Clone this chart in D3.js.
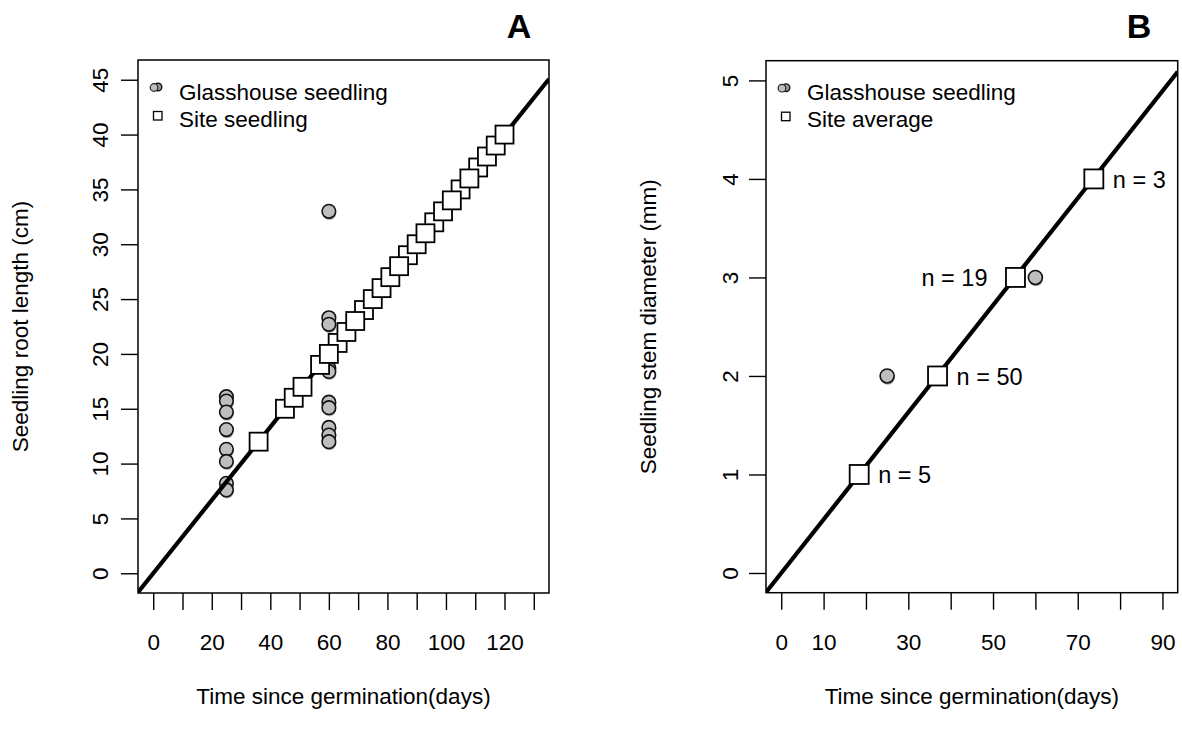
<!DOCTYPE html>
<html>
<head>
<meta charset="utf-8">
<script src="https://cdn.jsdelivr.net/npm/d3@7"></script>
<style>
  html, body { margin: 0; padding: 0; background: #fff; }
  svg { display: block; }
  text { font-family: "Liberation Sans", Arial, sans-serif; fill: #000; }
</style>
</head>
<body>
<div id="chart"></div>
<script>
// ---------------- DATA ----------------
// Panel A: glasshouse seedlings (days, root length cm)
const glassDaysA = [25, 25, 25, 25, 25, 25, 25, 25, 60, 60, 60, 60, 60, 60, 60, 60, 60, 60];
const glassRootA = [16.1, 15.7, 14.7, 13.1, 11.3, 10.2, 8.2, 7.6, 33.0, 23.3, 22.7, 18.7, 18.4, 15.6, 15.1, 13.3, 12.6, 12.0];
// Panel A: site seedlings (days, root length cm)
const siteDaysA = [36, 45, 48, 51, 57, 63, 60, 66, 72, 69, 75, 78, 81, 87, 84, 90, 96, 93, 99, 105, 102, 111, 108, 114, 117, 120];
const siteRootA = [12, 15, 16, 17, 19, 21, 20, 22, 24, 23, 25, 26, 27, 29, 28, 30, 32, 31, 33, 35, 34, 37, 36, 38, 39, 40];
// Panel A fitted line
const lineA = { intercept: 0, slope: 1 / 3 };
const xTicksA = [0, 10, 20, 30, 40, 50, 60, 70, 80, 90, 100, 110, 120, 130];
const xTickLabelsA = ["0", "", "20", "", "40", "", "60", "", "80", "", "100", "", "120", ""];
const yTicksA = [0, 5, 10, 15, 20, 25, 30, 35, 40, 45];
const yTickLabelsA = ["0", "5", "10", "15", "20", "25", "30", "35", "40", "45"];

// Panel B: glasshouse seedlings (days, stem diameter mm)
const glassDaysB = [25, 60];
const glassStemB = [2, 3];
// Panel B: site averages
const siteDaysB = [18.4, 36.9, 55.3, 73.8];
const siteStemB = [1, 2, 3, 4];
const siteNB = ["n = 5", "n = 50", "n = 19", "n = 3"];
const siteNSideB = ["right", "right", "left", "right"];
const lineB = { intercept: 0, slope: 1 / 18.4 };
const xTicksB = [0, 10, 20, 30, 40, 50, 60, 70, 80, 90];
const xTickLabelsB = ["0", "10", "", "30", "", "50", "", "70", "", "90"];
const yTicksB = [0, 1, 2, 3, 4, 5];
const yTickLabelsB = ["0", "1", "2", "3", "4", "5"];

const xTitle = "Time since germination(days)";
const yTitleA = "Seedling root length (cm)";
const yTitleB = "Seedling stem diameter (mm)";
const legendA = ["Glasshouse seedling", "Site seedling"];
const legendB = ["Glasshouse seedling", "Site average"];

// ---------------- LAYOUT ----------------
const W = 1182, H = 731;
const FS = 22.5;
const svg = d3.select("#chart").append("svg").attr("width", W).attr("height", H);

function panel(cfg) {
  const g = svg.append("g");
  const x = d3.scaleLinear().domain(cfg.xDomain).range([cfg.left, cfg.right]);
  const y = d3.scaleLinear().domain(cfg.yDomain).range([cfg.bottom, cfg.top]);
  const tickLen = 17;

  // x axis (ticks hanging from the box)
  const xAxis = d3.axisBottom(x).tickValues(cfg.xTicks)
    .tickFormat((d, i) => cfg.xLabels[i]).tickSizeInner(tickLen).tickSizeOuter(0).tickPadding(24);
  const gx = g.append("g").attr("transform", `translate(0,${cfg.bottom})`).call(xAxis);
  gx.select(".domain").remove();
  gx.selectAll("line").attr("stroke", "#000").attr("stroke-width", 1.4);
  gx.selectAll("text").attr("font-size", FS).attr("font-family", "Liberation Sans, Arial, sans-serif")
    .attr("fill", "#000");

  // y axis (rotated labels)
  const yAxis = d3.axisLeft(y).tickValues(cfg.yTicks)
    .tickFormat((d, i) => cfg.yLabels[i]).tickSizeInner(tickLen).tickSizeOuter(0);
  const gy = g.append("g").attr("transform", `translate(${cfg.left},0)`).call(yAxis);
  gy.select(".domain").remove();
  gy.selectAll("line").attr("stroke", "#000").attr("stroke-width", 1.4);
  gy.selectAll("text").attr("font-size", FS).attr("font-family", "Liberation Sans, Arial, sans-serif")
    .attr("fill", "#000")
    .attr("dy", null)
    .attr("text-anchor", "middle")
    .attr("transform", "rotate(-90)")
    .attr("x", 0)
    .attr("y", -(cfg.left - cfg.yLabelBaseline));

  // clip for plot region
  const clipId = "clip" + cfg.id;
  svg.append("clipPath").attr("id", clipId).append("rect")
    .attr("x", cfg.left).attr("y", cfg.top)
    .attr("width", cfg.right - cfg.left).attr("height", cfg.bottom - cfg.top);
  const plot = g.append("g").attr("clip-path", `url(#${clipId})`);

  // glasshouse circles: shadow, then circle
  const circ = cfg.glassX.map((d, i) => ({ x: d, y: cfg.glassY[i] }));
  plot.selectAll("circle.sh").data(circ).join("circle").attr("class", "sh")
    .attr("cx", d => x(d.x) + 0.6).attr("cy", d => y(d.y) + 1.8).attr("r", cfg.cr)
    .attr("fill", "#a8a8a8");
  plot.selectAll("circle.pt").data(circ).join("circle").attr("class", "pt")
    .attr("cx", d => x(d.x)).attr("cy", d => y(d.y)).attr("r", cfg.cr)
    .attr("fill", "#bebebe").attr("stroke", "#111").attr("stroke-width", 1.6);

  // fitted line
  const xd = cfg.xDomain;
  plot.append("line")
    .attr("x1", x(xd[0])).attr("y1", y(cfg.line.intercept + cfg.line.slope * xd[0]))
    .attr("x2", x(xd[1])).attr("y2", y(cfg.line.intercept + cfg.line.slope * xd[1]))
    .attr("stroke", "#000").attr("stroke-width", 4.2);

  // site squares
  const sq = cfg.siteX.map((d, i) => ({ x: d, y: cfg.siteY[i], i }));
  plot.selectAll("rect.sq").data(sq).join("rect").attr("class", "sq")
    .attr("x", d => x(d.x) - cfg.ss / 2).attr("y", d => y(d.y) - cfg.ss / 2)
    .attr("width", cfg.ss).attr("height", cfg.ss)
    .attr("fill", "#fff").attr("stroke", "#000").attr("stroke-width", 1.8);

  // n labels
  if (cfg.nLabels) {
    g.selectAll("text.nl").data(sq).join("text").attr("class", "nl")
      .attr("x", d => cfg.nSide[d.i] === "right" ? x(d.x) + 19 : x(d.x) - 28)
      .attr("y", d => y(d.y) + 9)
      .attr("text-anchor", d => cfg.nSide[d.i] === "right" ? "start" : "end")
      .attr("font-family", "Open Sans, sans-serif").attr("font-size", 23.5)
      .text(d => cfg.nLabels[d.i]);
  }

  // box
  g.append("rect").attr("x", cfg.left).attr("y", cfg.top)
    .attr("width", cfg.right - cfg.left).attr("height", cfg.bottom - cfg.top)
    .attr("fill", "none").attr("stroke", "#000").attr("stroke-width", 1.5);

  // legend
  const lx = cfg.left;
  g.append("circle").attr("cx", lx + 20).attr("cy", cfg.top + 27).attr("r", 3.8)
    .attr("fill", "#9a9a9a").attr("stroke", "#111").attr("stroke-width", 1.4);
  g.append("circle").attr("cx", lx + 16).attr("cy", cfg.top + 27.5).attr("r", 3.8)
    .attr("fill", "#bebebe").attr("stroke", "#222").attr("stroke-width", 1.2);
  g.append("rect").attr("x", lx + 15.5).attr("y", cfg.top + 51.5).attr("width", 8.5).attr("height", 8.5)
    .attr("fill", "#fff").attr("stroke", "#000").attr("stroke-width", 1.3);
  g.append("text").attr("x", lx + 41).attr("y", cfg.top + 39.5).attr("font-size", FS).text(cfg.legend[0]);
  g.append("text").attr("x", lx + 41).attr("y", cfg.top + 66.5).attr("font-size", FS).text(cfg.legend[1]);

  // axis titles
  g.append("text").attr("x", (cfg.left + cfg.right) / 2).attr("y", cfg.xTitleY)
    .attr("text-anchor", "middle").attr("font-size", FS).text(xTitle);
  g.append("text").attr("transform", `translate(${cfg.yTitleX},${(cfg.top + cfg.bottom) / 2}) rotate(-90)`)
    .attr("text-anchor", "middle").attr("font-size", FS).text(cfg.yTitle);

  // panel letter
  g.append("text").attr("x", cfg.letterX).attr("y", 38).attr("text-anchor", "middle")
    .attr("font-size", 34).attr("font-weight", "bold").text(cfg.letter);
}

panel({
  id: "A", left: 138, right: 549, top: 60, bottom: 593,
  xDomain: [-5.2, 135.2], yDomain: [-1.8, 46.8],
  xTicks: xTicksA, xLabels: xTickLabelsA, yTicks: yTicksA, yLabels: yTickLabelsA,
  glassX: glassDaysA, glassY: glassRootA, siteX: siteDaysA, siteY: siteRootA,
  line: lineA, cr: 6.8, ss: 18,
  legend: legendA, yTitle: yTitleA, yTitleX: 28, xTitleY: 704, yLabelBaseline: 108,
  letter: "A", letterX: 519
});

panel({
  id: "B", left: 766, right: 1177.7, top: 60.7, bottom: 592.7,
  xDomain: [-3.6, 93.6], yDomain: [-0.2, 5.2],
  xTicks: xTicksB, xLabels: xTickLabelsB, yTicks: yTicksB, yLabels: yTickLabelsB,
  glassX: glassDaysB, glassY: glassStemB, siteX: siteDaysB, siteY: siteStemB,
  line: lineB, cr: 7, ss: 19,
  nLabels: siteNB, nSide: siteNSideB,
  legend: legendB, yTitle: yTitleB, yTitleX: 656, xTitleY: 704, yLabelBaseline: 738,
  letter: "B", letterX: 1139
});
</script>
</body>
</html>
